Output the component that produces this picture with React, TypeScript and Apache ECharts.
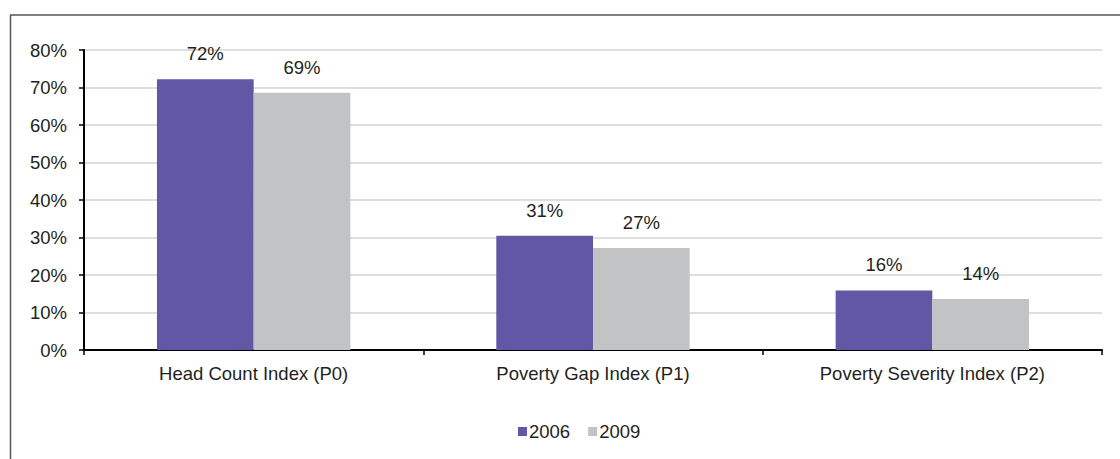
import React, { useEffect, useRef } from "react";
import * as echarts from "echarts";

const categories = ["Head Count Index (P0)", "Poverty Gap Index (P1)", "Poverty Severity Index (P2)"];
const series2006 = [72.2, 30.5, 15.9];
const series2009 = [68.6, 27.2, 13.6];
const yTicks = [0, 10, 20, 30, 40, 50, 60, 70, 80];

const FONT = "'Liberation Sans', Arial, sans-serif";
const TEXT = "#231f20";
const FS = 18.5;

export default function App() {
  const ref = useRef<HTMLDivElement>(null);
  useEffect(() => {
    if (!ref.current) return;
    const chart = echarts.init(ref.current, null, { renderer: "svg" });
    const label = {
      show: true,
      position: "top" as const,
      distance: 16,
      color: TEXT,
      fontSize: FS,
      fontFamily: FONT,
      formatter: (p: any) => Math.round(p.value) + "%",
    };
    chart.setOption({
      animation: false,
      textStyle: { fontFamily: FONT },
      grid: { left: 84, right: 18, top: 50, bottom: 109, containLabel: false },
      legend: {
        left: 513,
        top: 417,
        itemWidth: 9,
        itemHeight: 9,
        itemGap: 18,
        icon: "rect",
        textStyle: { color: TEXT, fontSize: FS, fontFamily: FONT, padding: [0, 0, 0, -3] },
        data: ["2006", "2009"],
      },
      xAxis: {
        type: "category",
        data: categories,
        axisLine: { lineStyle: { color: "#000", width: 2 } },
        axisTick: { show: true, length: 5, lineStyle: { color: "#000", width: 1.5 } },
        axisLabel: { color: TEXT, fontSize: FS, fontFamily: FONT, margin: 14 },
      },
      yAxis: {
        type: "value",
        min: yTicks[0],
        max: yTicks[yTicks.length - 1],
        interval: 10,
        axisLine: { show: true, lineStyle: { color: "#000", width: 2 } },
        axisTick: { show: true, length: 5, lineStyle: { color: "#000", width: 1.5 } },
        axisLabel: { color: TEXT, fontSize: FS, fontFamily: FONT, margin: 17, formatter: "{value}%" },
        splitLine: { lineStyle: { color: "#d4d4d4", width: 1.5 } },
      },
      series: [
        {
          name: "2006",
          type: "bar",
          data: series2006,
          itemStyle: { color: "#6257a5" },
          barGap: "0%",
          barCategoryGap: "43%",
          label,
        },
        {
          name: "2009",
          type: "bar",
          data: series2009,
          itemStyle: { color: "#c2c3c5" },
          label,
        },
      ],
      graphic: [
        { type: "line", shape: { x1: 10, y1: 15, x2: 1120, y2: 15 }, style: { stroke: "#555", lineWidth: 1.5 } },
        { type: "line", shape: { x1: 10.5, y1: 15, x2: 10.5, y2: 459 }, style: { stroke: "#555", lineWidth: 1.5 } },
      ],
    });
    return () => chart.dispose();
  }, []);
  return <div ref={ref} style={{ position: "absolute", left: 0, top: 0, width: 1120, height: 459 }} />;
}
